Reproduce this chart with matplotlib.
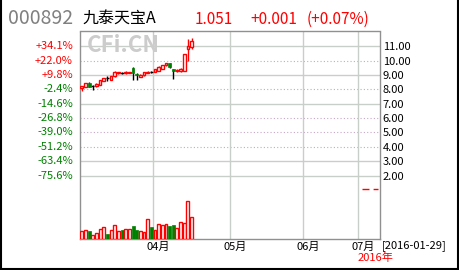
import matplotlib
matplotlib.use("Agg")
import matplotlib.pyplot as plt
from matplotlib.lines import Line2D
from matplotlib.transforms import ScaledTranslation

plt.rcParams['font.family'] = ['Noto Sans CJK SC', 'DejaVu Sans']

# daily candles, one per trading day
openPrice  = [8.08, 8.20, 8.43, 8.24, 8.24, 8.31, 8.62, 8.78, 8.66, 8.94, 9.13, 9.17, 9.13, 9.15, 9.52, 9.10,
              8.89, 8.99, 9.17, 9.22, 9.22, 9.29, 9.45, 9.69, 9.83, 9.41, 9.27, 9.27, 9.31, 10.80, 10.99]
highPrice  = [8.26, 8.45, 8.55, 8.31, 8.43, 8.68, 8.82, 8.94, 8.96, 9.27, 9.24, 9.22, 9.27, 9.25, 9.55, 9.13,
              9.05, 9.22, 9.27, 9.27, 9.43, 9.62, 9.72, 9.86, 9.86, 9.45, 9.41, 9.47, 10.50, 11.50, 11.57]
lowPrice   = [7.92, 8.18, 8.15, 7.96, 8.20, 8.29, 8.60, 8.62, 8.64, 8.90, 9.10, 9.10, 9.10, 9.13, 8.66, 8.66,
              8.85, 8.95, 9.13, 9.15, 9.20, 9.27, 9.43, 9.66, 9.50, 8.71, 9.20, 9.20, 9.29, 10.01, 10.80]
closePrice = [8.24, 8.43, 8.20, 8.24, 8.40, 8.66, 8.78, 8.78, 8.94, 9.24, 9.20, 9.17, 9.24, 9.20, 9.13, 9.01,
              9.01, 9.20, 9.24, 9.22, 9.41, 9.59, 9.69, 9.83, 9.55, 9.27, 9.38, 9.45, 10.48, 11.03, 11.38]
volume     = [83, 93, 83, 40, 63, 100, 123, 56, 93, 143, 83, 93, 103, 103, 136, 96,
              83, 76, 203, 123, 93, 156, 146, 156, 136, 146, 113, 176, 163, 383, 223]
volumeUp   = [1, 1, 0, 1, 1, 1, 1, 0, 1, 1, 1, 0, 1, 1, 0, 0,
              1, 1, 1, 0, 1, 1, 1, 1, 0, 0, 1, 1, 1, 1, 1]

basePrice = 8.2
lastPrice = 1.051
priceTicks = [2, 3, 4, 5, 6, 7, 8, 9, 10, 11]
dottedTicks = [10, 8, 6, 5, 4]
monthPos = [20, 41, 61, 76]
monthLabels = ['04月', '05月', '06月', '07月']
totalSlots = 82

RED = '#ff0000'
GREEN = '#008000'
GRID = '#c8cec8'

W, H = 460, 270
fig = plt.figure(figsize=(4.6, 2.7), dpi=100)

axLeft, axTop, axRight, axBottom = 80, 31, 380, 239.3
ax = fig.add_axes([axLeft / W, 1 - axBottom / H, (axRight - axLeft) / W, (axBottom - axTop) / H])
volAx = fig.add_axes([axLeft / W, 1 - axBottom / H, (axRight - axLeft) / W, 44.3 / H])
volAx.patch.set_alpha(0)

ax.set_xlim(0, totalSlots)
ax.set_ylim(-2.45, 12.08)
volAx.set_xlim(0, totalSlots)
volAx.set_ylim(0, 443)
volAx.axis('off')

# grid
for p in priceTicks:
    if p in dottedTicks:
        ax.axhline(p, color='#c8a8c8', lw=0.8, ls=(0, (1, 2)), zorder=0)
    else:
        ax.axhline(p, color=GRID, lw=1, zorder=0)
for m in monthPos:
    ax.axvline(m, color=GRID, lw=1, zorder=0)

# candles
for i in range(len(openPrice)):
    x = i + 0.5
    o, h, l, c = openPrice[i], highPrice[i], lowPrice[i], closePrice[i]
    if c > o:
        ax.vlines(x, l, o, color=RED, lw=1)
        ax.vlines(x, c, h, color=RED, lw=1)
        ax.bar(x, c - o, bottom=o, width=0.75, facecolor='white', edgecolor=RED, lw=1, zorder=3)
    elif c < o:
        ax.vlines(x, l, h, color='black', lw=1)
        ax.bar(x, o - c, bottom=c, width=0.75, facecolor=GREEN, edgecolor=GREEN, lw=0.5, zorder=3)
    else:
        ax.vlines(x, l, h, color='black', lw=1)
        ax.hlines(o, x - 0.45, x + 0.45, color='black', lw=1)

# volume
for i in range(len(volume)):
    if volumeUp[i]:
        volAx.bar(i + 0.5, volume[i], width=0.8, facecolor='white', edgecolor=RED, lw=1)
    else:
        volAx.bar(i + 0.5, volume[i], width=0.8, facecolor=GREEN, edgecolor=GREEN, lw=0.5)

# last price marker
ax.hlines(lastPrice, 77.1, 81.5, colors=RED, lw=1, linestyles=(0, (5, 3)))

# axes look
for side in ['top', 'bottom', 'left', 'right']:
    ax.spines[side].set_color('#909090')
    ax.spines[side].set_linewidth(1)
ax.spines['left'].set_linestyle((0, (1, 1)))
ax.spines['right'].set_linestyle((0, (1, 1)))

ax.yaxis.tick_right()
ax.set_yticks(priceTicks, ['%.2f' % p for p in priceTicks])
ax.tick_params(axis='y', length=0, pad=2, labelsize=8, colors='black')
ax.set_xticks(monthPos, monthLabels)
ax.tick_params(axis='x', length=0, pad=2, labelsize=8)
for lbl in ax.get_xticklabels():
    lbl.set_transform(lbl.get_transform() + ScaledTranslation(5 / 100, 0, fig.dpi_scale_trans))

leftShift = ScaledTranslation(-7 / 100, 0, fig.dpi_scale_trans)
for p in priceTicks:
    pct = (p / basePrice - 1) * 100
    ax.text(0, p, '%+.1f%%' % pct, transform=ax.get_yaxis_transform() + leftShift,
            ha='right', va='center', fontsize=8, color=RED if pct > 0 else GREEN)

# header and footer texts
def figText(x, y, s, **kw):
    fig.text(x / W, 1 - y / H, s, va='center', **kw)

figText(8, 19, '000892', fontsize=14, color='#808080')
figText(82, 19, '九泰天宝A', fontsize=11.5, color='black')
figText(195, 19, '1.051', fontsize=11, color=RED)
figText(250, 19, '+0.001', fontsize=11, color=RED)
figText(307, 19, '(+0.07%)', fontsize=11, color=RED)
figText(87, 45, 'CFi.CN', fontsize=16, fontweight='bold', color='#cccccc', zorder=0)
figText(382, 246, '[2016-01-29]', fontsize=8, color='black')
figText(358, 258, '2016年', fontsize=8, color=RED)

# outer frame
fig.add_artist(Line2D([0.5 / W, 0.5 / W], [0, 1], color='black', lw=1.5))
fig.add_artist(Line2D([458.5 / W, 458.5 / W], [0, 1], color='black', lw=1.5))
fig.add_artist(Line2D([0, 459 / W], [1.5 / H, 1.5 / H], color='black', lw=1.5))

fig.savefig('out.png', dpi=100)
